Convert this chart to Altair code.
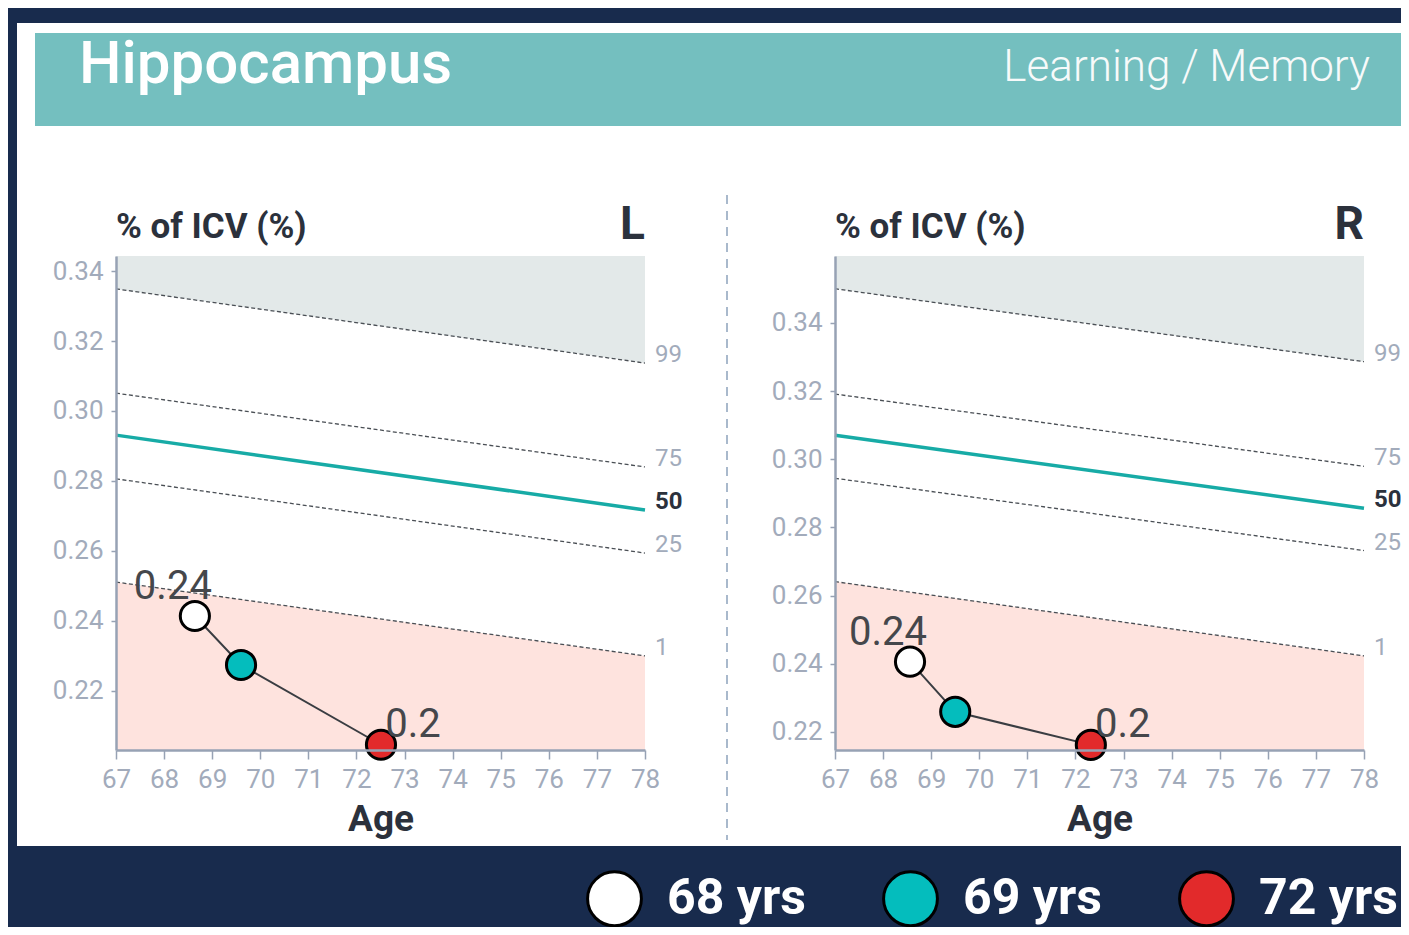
import altair as alt
import pandas as pd

# ---------------- data ----------------
end_ages = [67, 78]
pct_names = ["99", "75", "50", "25", "1"]

# percentile curves (value at age 67, value at age 78)
L_curves = {"99": [0.3349, 0.3137], "75": [0.3051, 0.2840], "50": [0.2931, 0.2717],
            "25": [0.2806, 0.2594], "1": [0.2511, 0.2300]}
R_curves = {"99": [0.3500, 0.3286], "75": [0.3191, 0.2979], "50": [0.3070, 0.2856],
            "25": [0.2944, 0.2732], "1": [0.2641, 0.2423]}

visits = ["68 yrs", "69 yrs", "72 yrs"]
visit_colors = ["#ffffff", "#04bdbd", "#e22a2b"]
L_ages = [68.64, 69.60, 72.51]
L_vals = [0.2414, 0.2274, 0.2046]
R_ages = [68.56, 69.50, 72.32]
R_vals = [0.2406, 0.2259, 0.2162]
val_text = ["0.24", "", "0.2"]

L_domain = [0.2031, 0.3443]
R_domain = [0.2147, 0.3596]
y_ticks = [0.22, 0.24, 0.26, 0.28, 0.30, 0.32, 0.34]
x_ticks = [67, 67.5, 68, 68.5, 69, 69.5, 70, 70.5, 71, 71.5, 72, 72.5,
           73, 73.5, 74, 74.5, 75, 75.5, 76, 76.5, 77, 77.5, 78]

# ---------------- style ----------------
NAVY = "#182b4d"
TEAL_HDR = "#74bfbf"
TEAL_LINE = "#17aba6"
GREY_AREA = "#e3e9e9"
PINK_AREA = "#fee3de"
AXIS_C = "#97a2b4"
LAB_C = "#a2abbb"
DARK = "#2b313c"
FONT = "Roboto"

W, H = 1393, 919
Y_TOP, Y_BOT = 248, 742


def panel(curves, ages, vals, ydom, x0, x1):
    xs = alt.Scale(domain=[67, 78], range=[x0, x1], nice=False, zero=False)
    ys = alt.Scale(domain=ydom, range=[Y_BOT, Y_TOP], nice=False, zero=False)
    xax = alt.Axis(orient="bottom", offset=Y_BOT - H, values=x_ticks, zindex=2,
                   labelExpr="datum.value % 1 == 0 ? datum.label : ''", format="d",
                   tickSize=9, tickWidth=1.5, tickColor=AXIS_C, domainColor=AXIS_C,
                   domainWidth=2.5, labelFontSize=26, labelColor=LAB_C, labelFont=FONT,
                   labelPadding=7, labelOverlap=False, labelFlush=False, grid=False,
                   title="Age", titleFont=FONT, titleFontSize=37, titleFontWeight="bold",
                   titleColor=DARK, titlePadding=9)
    yax = alt.Axis(orient="left", offset=-x0, values=y_ticks, format=".2f", zindex=2,
                   tickSize=5, tickWidth=1.5, tickColor=AXIS_C, domainColor=AXIS_C,
                   domainWidth=2.5, labelFontSize=26, labelColor=LAB_C, labelFont=FONT,
                   labelPadding=8, labelOverlap=False, grid=False, title=None)
    X = alt.X("age:Q", scale=xs, axis=xax)
    Y = alt.Y("val:Q", scale=ys, axis=yax)

    rows = []
    for p in pct_names:
        for a, v in zip(end_ages, curves[p]):
            rows.append({"age": a, "val": v, "pct": p})
    cdf = pd.DataFrame(rows)

    top_area = alt.Chart(cdf[cdf.pct == "99"]).mark_area(color=GREY_AREA, opacity=1).encode(
        x=X, y=Y, y2=alt.datum(ydom[1]))
    bot_area = alt.Chart(cdf[cdf.pct == "1"]).mark_area(color=PINK_AREA, opacity=1).encode(
        x=X, y=Y, y2=alt.datum(ydom[0]))
    dashed = alt.Chart(cdf[cdf.pct != "50"]).mark_line(
        color="#4a4f55", strokeWidth=1.3, strokeDash=[4, 2.5]).encode(x=X, y=Y, detail="pct:N")
    median = alt.Chart(cdf[cdf.pct == "50"]).mark_line(
        color=TEAL_LINE, strokeWidth=3.5).encode(x=X, y=Y)

    ends = cdf[cdf.age == 78]
    pct_lab = alt.Chart(ends[ends.pct != "50"]).mark_text(
        align="left", baseline="middle", dx=10, dy=-8, fontSize=24, font=FONT,
        color=LAB_C).encode(x=X, y=Y, text="pct:N")
    pct_lab50 = alt.Chart(ends[ends.pct == "50"]).mark_text(
        align="left", baseline="middle", dx=10, dy=-8, fontSize=24, font=FONT,
        fontWeight="bold", color=DARK).encode(x=X, y=Y, text="pct:N")

    pdf = pd.DataFrame({"age": ages, "val": vals, "visit": visits, "txt": val_text})
    path = alt.Chart(pdf).mark_line(color="#3a3d42", strokeWidth=2).encode(x=X, y=Y)
    leg = alt.Legend(orient="none", legendX=578, legendY=862, direction="horizontal",
                     title=None, symbolType="circle", symbolSize=2900,
                     symbolStrokeColor="black", symbolStrokeWidth=3, symbolOpacity=1,
                     labelFontSize=50, labelFont=FONT, labelFontWeight="bold",
                     labelColor="white", labelOffset=24, columnPadding=71,
                     labelLimit=400, padding=0)
    pts = alt.Chart(pdf).mark_circle(size=850, stroke="black", strokeWidth=3,
                                     opacity=1).encode(
        x=X, y=Y,
        color=alt.Color("visit:N", scale=alt.Scale(domain=visits, range=visit_colors),
                        legend=leg))
    first_lab = alt.Chart(pdf.iloc[[0]]).mark_text(
        fontSize=40, font=FONT, color="#45474b", dx=-22, dy=-29).encode(x=X, y=Y, text="txt:N")
    last_lab = alt.Chart(pdf.iloc[[2]]).mark_text(
        fontSize=40, font=FONT, color="#45474b", dx=32, dy=-20).encode(x=X, y=Y, text="txt:N")

    return alt.layer(top_area, bot_area, dashed, median, pct_lab, pct_lab50,
                     path, pts, first_lab, last_lab)


one = pd.DataFrame({"k": [0]})

white_panel = alt.Chart(one).mark_rect(color="white").encode(
    x=alt.value(9), x2=alt.value(W + 10), y=alt.value(15), y2=alt.value(838))
header = alt.Chart(one).mark_rect(color=TEAL_HDR).encode(
    x=alt.value(27), x2=alt.value(W + 10), y=alt.value(25), y2=alt.value(118))
separator = alt.Chart(one).mark_rule(color="#a9b9cc", strokeWidth=2, strokeDash=[9, 7]).encode(
    x=alt.value(719), y=alt.value(187), y2=alt.value(832))


def label(txt, x, y, size, weight="normal", color=DARK, align="left"):
    return alt.Chart(one).mark_text(text=txt, fontSize=size, fontWeight=weight, font=FONT,
                                    color=color, align=align, baseline="alphabetic").encode(
        x=alt.value(x), y=alt.value(y))


texts = [
    label("Hippocampus", 71, 75, 60, 500, "white"),
    label("Learning / Memory", 1362, 73, 44, 300, "#f7fafa", "right"),
    label("% of ICV (%)", 108, 230, 35, "bold"),
    label("% of ICV (%)", 827, 230, 35, "bold"),
    label("L", 637, 231, 46, "bold", align="right"),
    label("R", 1356, 231, 46, "bold", align="right"),
]

left = panel(L_curves, L_ages, L_vals, L_domain, 108, 637)
right = panel(R_curves, R_ages, R_vals, R_domain, 827, 1356)

chart = alt.layer(white_panel, header, separator, left, right, *texts).resolve_scale(
    x="independent", y="independent"
).properties(
    width=W, height=H, autosize=alt.AutoSizeParams(type="none"), padding=0,
    background=NAVY
).configure_view(strokeWidth=0)

chart.save("out.html", embed_options={"renderer": "svg", "actions": False})
